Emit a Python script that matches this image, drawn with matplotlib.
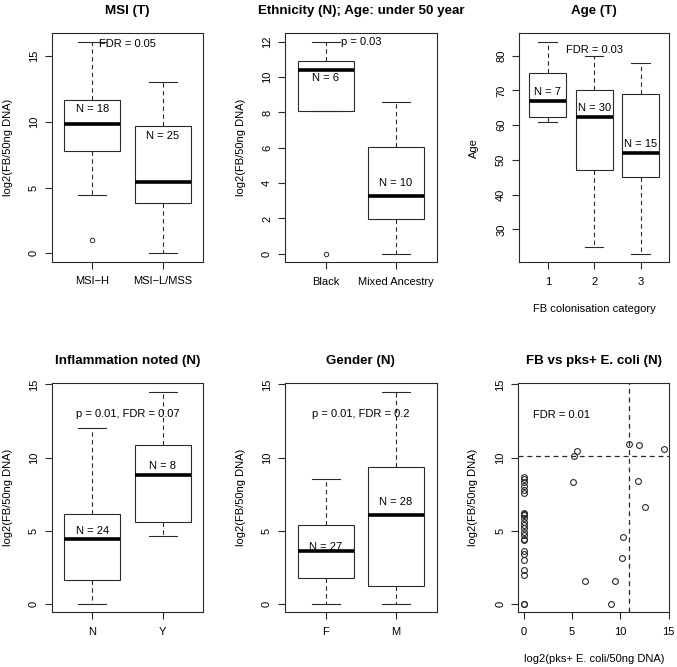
import matplotlib
matplotlib.use("Agg")
import matplotlib.pyplot as plt

plt.rcParams['font.family'] = ['Liberation Sans', 'DejaVu Sans']
plt.rcParams['font.size'] = 8

# ---------------- data ----------------
msi_labels = ['MSI\u2212H', 'MSI\u2212L/MSS']
msi_whislo = [4.43, 0.0]
msi_q1 = [7.78, 3.85]
msi_med = [9.83, 5.45]
msi_q3 = [11.65, 9.68]
msi_whishi = [16.05, 13.05]
msi_fliers = [[1.0], []]
msi_n = [18, 25]

eth_labels = ['Black', 'Mixed Ancestry']
eth_whislo = [8.09, 0.0]
eth_q1 = [8.09, 1.99]
eth_med = [10.39, 3.30]
eth_q3 = [10.90, 6.03]
eth_whishi = [12.0, 8.57]
eth_fliers = [[0.0], []]
eth_n = [6, 10]

age_labels = ['1', '2', '3']
age_whislo = [61, 25, 23]
age_q1 = [62.5, 47, 45]
age_med = [67, 62.5, 52]
age_q3 = [75, 70, 69]
age_whishi = [84, 80, 78]
age_fliers = [[], [], []]
age_n = [7, 30, 15]

infl_labels = ['N', 'Y']
infl_whislo = [0.0, 4.67]
infl_q1 = [1.60, 5.58]
infl_med = [4.44, 8.82]
infl_q3 = [6.13, 10.87]
infl_whishi = [12.0, 14.47]
infl_fliers = [[], []]
infl_n = [24, 8]

gen_labels = ['F', 'M']
gen_whislo = [0.0, 0.0]
gen_q1 = [1.78, 1.25]
gen_med = [3.58, 6.09]
gen_q3 = [5.36, 9.39]
gen_whishi = [8.53, 14.47]
gen_fliers = [[], []]
gen_n = [27, 28]

pks_x = [0, 0, 0, 0, 0, 0, 0, 0, 0, 0, 0, 0, 0, 0, 0, 0, 0, 0, 0, 0, 0, 0, 0, 0,
         10.86, 11.9, 14.5, 5.48, 5.17, 5.1, 11.86, 12.55, 10.3, 10.2, 6.3, 9.4, 9.03]
fb_y = [8.7, 8.55, 8.3, 8.05, 7.8, 7.6, 6.2, 6.15, 6.05, 5.9, 5.6, 5.4, 5.2, 4.9, 4.7,
        4.4, 4.35, 3.6, 3.4, 3.0, 2.3, 2.0, 0.0, 0.0,
        10.9, 10.85, 10.58, 10.42, 10.08, 8.34, 8.39, 6.59, 4.6, 3.15, 1.57, 1.57, 0.0]
pks_cut = 10.86
fb_cut = 10.08

# ---------------- layout ----------------
W, H = 677, 667
fig = plt.figure(figsize=(W / 100, H / 100), dpi=100)


def make_ax(l, r, t, b):
    return fig.add_axes([l / W, 1 - b / H, (r - l) / W, (b - t) / H])


LC = '#2a2a2a'


def style(ax):
    for s in ax.spines.values():
        s.set_linewidth(0.8)
        s.set_color(LC)
    ax.tick_params(axis='both', direction='out', length=4.8, width=0.8, color=LC,
                   labelsize=8)
    ax.tick_params(axis='x', pad=5.5)
    ax.tick_params(axis='y', pad=4.5, labelrotation=90)
    for lab in ax.get_yticklabels():
        lab.set_va('center')


def boxpanel(ax, labels, wlo, q1, med, q3, whi, fliers):
    stats = []
    for i in range(len(labels)):
        stats.append(dict(whislo=wlo[i], q1=q1[i], med=med[i], q3=q3[i],
                          whishi=whi[i], fliers=fliers[i]))
    pos = list(range(1, len(labels) + 1))
    ax.bxp(stats, positions=pos, widths=0.8, capwidths=0.4, patch_artist=True,
           boxprops=dict(facecolor='white', edgecolor=LC, linewidth=0.8),
           whiskerprops=dict(color=LC, linewidth=0.8, linestyle=(0, (4, 3))),
           capprops=dict(color=LC, linewidth=0.8),
           medianprops=dict(color='black', linewidth=2.6, solid_capstyle='butt'),
           flierprops=dict(marker='o', markersize=3.2, markerfacecolor='none',
                           markeredgecolor=LC, markeredgewidth=0.7))
    n = len(labels)
    pad = (n) * 0.04
    ax.set_xlim(0.5 - pad, n + 0.5 + pad)
    ax.set_xticks(pos)
    ax.set_xticklabels(labels)


def ylab(ax, text, xpix, axl, axr):
    ax.text((xpix - axl) / (axr - axl), 0.5, text, rotation=90, ha='center',
            va='center', transform=ax.transAxes, fontsize=8)


def title(ax, text):
    ax.set_title(text, fontsize=9.6, fontweight='bold', pad=13.8)


# Panel 1: MSI
ax1 = make_ax(51.7, 203.3, 33.3, 261.7)
boxpanel(ax1, msi_labels, msi_whislo, msi_q1, msi_med, msi_q3, msi_whishi, msi_fliers)
ax1.set_ylim(-0.644, 16.744)
ax1.set_yticks([0, 5, 10, 15])
style(ax1)
title(ax1, 'MSI (T)')
ylab(ax1, 'log2(FB/50ng DNA)', 7.5, 51.7, 203.3)
ax1.text(1.5, 15.96, 'FDR = 0.05', ha='center', va='center')
ax1.text(1, 10.97, 'N = %d' % msi_n[0], ha='center', va='center')
ax1.text(2, 8.94, 'N = %d' % msi_n[1], ha='center', va='center')

# Panel 2: Ethnicity
ax2 = make_ax(285, 436.7, 33.3, 262.3)
boxpanel(ax2, eth_labels, eth_whislo, eth_q1, eth_med, eth_q3, eth_whishi, eth_fliers)
ax2.set_ylim(-0.48, 12.48)
ax2.set_yticks([0, 2, 4, 6, 8, 10, 12])
style(ax2)
title(ax2, 'Ethnicity (N); Age: under 50 year')
ylab(ax2, 'log2(FB/50ng DNA)', 240.5, 285, 436.7)
ax2.text(1.5, 12.0, 'p = 0.03', ha='center', va='center')
ax2.text(1, 9.95, 'N = %d' % eth_n[0], ha='center', va='center')
ax2.text(2, 3.98, 'N = %d' % eth_n[1], ha='center', va='center')

# Panel 3: Age
ax3 = make_ax(519, 669.3, 33.3, 262.3)
boxpanel(ax3, age_labels, age_whislo, age_q1, age_med, age_q3, age_whishi, age_fliers)
ax3.set_ylim(20.56, 86.44)
ax3.set_yticks([30, 40, 50, 60, 70, 80])
style(ax3)
title(ax3, 'Age (T)')
ylab(ax3, 'Age', 473.5, 519, 669.3)
ax3.text(0.5, (262.3 - 309) / (262.3 - 33.3), 'FB colonisation category', ha='center',
         va='center', transform=ax3.transAxes)
ax3.text(2, 81.7, 'FDR = 0.03', ha='center', va='center')
ax3.text(1, 69.5, 'N = %d' % age_n[0], ha='center', va='center')
ax3.text(2, 64.9, 'N = %d' % age_n[1], ha='center', va='center')
ax3.text(3, 54.6, 'N = %d' % age_n[2], ha='center', va='center')

# Panel 4: Inflammation
ax4 = make_ax(51.7, 203.3, 383.3, 612.3)
boxpanel(ax4, infl_labels, infl_whislo, infl_q1, infl_med, infl_q3, infl_whishi, infl_fliers)
ax4.set_ylim(-0.58, 15.08)
ax4.set_yticks([0, 5, 10, 15])
style(ax4)
title(ax4, 'Inflammation noted (N)')
ylab(ax4, 'log2(FB/50ng DNA)', 7.5, 51.7, 203.3)
ax4.text(1.5, 12.99, 'p = 0.01, FDR = 0.07', ha='center', va='center')
ax4.text(1, 4.95, 'N = %d' % infl_n[0], ha='center', va='center')
ax4.text(2, 9.41, 'N = %d' % infl_n[1], ha='center', va='center')

# Panel 5: Gender
ax5 = make_ax(285, 436.7, 383.3, 612.3)
boxpanel(ax5, gen_labels, gen_whislo, gen_q1, gen_med, gen_q3, gen_whishi, gen_fliers)
ax5.set_ylim(-0.58, 15.08)
ax5.set_yticks([0, 5, 10, 15])
style(ax5)
title(ax5, 'Gender (N)')
ylab(ax5, 'log2(FB/50ng DNA)', 240.5, 285, 436.7)
ax5.text(1.5, 12.99, 'p = 0.01, FDR = 0.2', ha='center', va='center')
ax5.text(1, 3.88, 'N = %d' % gen_n[0], ha='center', va='center')
ax5.text(2, 6.93, 'N = %d' % gen_n[1], ha='center', va='center')

# Panel 6: scatter
ax6 = make_ax(518.3, 669.3, 383.3, 612.3)
ax6.plot(pks_x, fb_y, linestyle='none', marker='o', markersize=4.2,
         markerfacecolor='none', markeredgecolor=LC, markeredgewidth=0.8)
ax6.axvline(pks_cut, color=LC, linewidth=0.9, linestyle=(0, (4, 3)))
ax6.axhline(fb_cut, color=LC, linewidth=0.9, linestyle=(0, (4, 3)))
ax6.set_xlim(-0.58, 15.08)
ax6.set_ylim(-0.58, 15.08)
ax6.set_xticks([0, 5, 10, 15])
ax6.set_yticks([0, 5, 10, 15])
style(ax6)
title(ax6, 'FB vs pks+ E. coli (N)')
ylab(ax6, 'log2(FB/50ng DNA)', 473.5, 518.3, 669.3)
ax6.text(0.5, (612.3 - 659) / (612.3 - 383.3), 'log2(pks+ E. coli/50ng DNA)', ha='center',
         va='center', transform=ax6.transAxes)
ax6.text(3.93, 12.92, 'FDR = 0.01', ha='center', va='center')

fig.savefig('out.png', dpi=100)
